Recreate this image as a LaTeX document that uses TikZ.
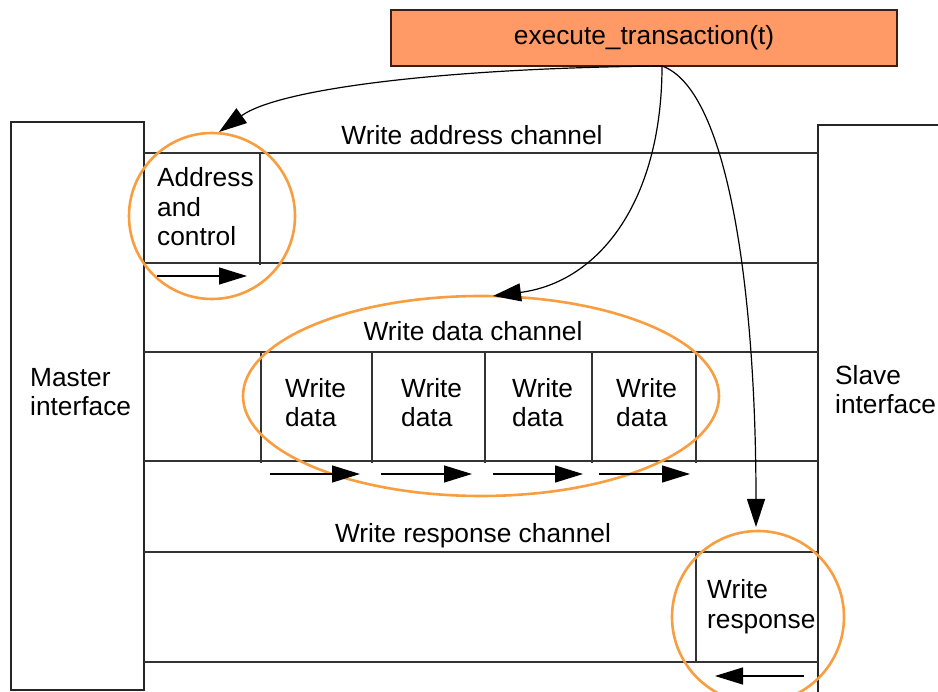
\documentclass[tikz,border=0pt]{standalone}
\usepackage{fontspec}
\setmainfont{Liberation Sans}
\usetikzlibrary{arrows.meta}
\definecolor{hilite}{RGB}{248,158,64}
\definecolor{callfill}{RGB}{255,153,102}
\definecolor{calledge}{RGB}{60,30,20}
\begin{document}
\begin{tikzpicture}[x=1pt,y=-1pt,
  lbl/.style={font=\fontsize{26.3}{29.5}\selectfont, inner sep=0pt, align=left, anchor=base west},
  ctr/.style={lbl, anchor=base},
  frame/.style={line width=1.4pt, draw=black!85},
  wire/.style={line width=1.4pt, draw=black!80},
  flow/.style={line width=1.3pt, -{Triangle[length=28pt,width=17pt]}},
  call/.style={line width=1.2pt, -{Triangle[length=28pt,width=18pt]}},
  ring/.style={draw=hilite, line width=2.6pt}]
\useasboundingbox (0,0) rectangle (938,692);
\clip (0,0) rectangle (938,692);

% interface blocks
\draw[frame] (11,690) -- (11,122) -- (144,122) -- (144,690) -- cycle;
\draw[frame] (940,125) -- (818,125) -- (818,700);

% write address channel
\draw[wire] (144,153) -- (818,153) (144,263) -- (818,263);
\draw[wire] (260,153) -- (260,265);

% write data channel
\draw[wire] (144,352) -- (818,352) (144,461) -- (818,461);
\foreach \x in {261,372,485,592,696} \draw[wire] (\x,352) -- (\x,463);

% write response channel
\draw[wire] (144,552) -- (818,552) (144,662) -- (818,662);
\draw[wire] (696,552) -- (696,662);

% highlighted groups
\draw[ring] (212,216) circle[radius=83];
\draw[ring] (481,396) ellipse[x radius=238, y radius=100];
\draw[ring] (758,617) circle[radius=86];

% labels (multi-line nodes are placed by the baseline of their last line)
\node[lbl] (master) at (30,416) {Master\\interface};
\node[lbl] (slave) at (835,414) {Slave\\interface};
\node[ctr] (wach) at (472,145) {Write address channel};
\node[ctr] (wdch) at (473,341) {Write data channel};
\node[ctr] (wrch) at (473,543) {Write response channel};
\node[lbl] (awcell) at (157,246) {Address\\and\\control};
\node[lbl] (wd1) at (285,427) {Write\\data};
\node[lbl] (wd2) at (401,427) {Write\\data};
\node[lbl] (wd3) at (512,427) {Write\\data};
\node[lbl] (wd4) at (616,427) {Write\\data};
\node[lbl] (bcell) at (707,628) {Write\\response};

% transfer direction arrows
\coordinate (aw0) at (157,276); \coordinate (aw1) at (247,276);
\draw[flow] (aw0) -- (aw1);
\foreach \s/\e [count=\i] in {270/360,381/472,493/583,599/690} {
  \coordinate (w\i a) at (\s,474); \coordinate (w\i b) at (\e,474);
  \draw[flow] (w\i a) -- (w\i b);
}
\coordinate (b0) at (804,676); \coordinate (b1) at (715,676);
\draw[flow] (b0) -- (b1);

% transaction call
\node[draw=calledge, fill=callfill, line width=1.3pt, minimum width=506pt,
      minimum height=56pt, inner sep=0pt, font=\fontsize{26.3}{29.5}\selectfont]
      (exec) at (644,38) {execute\_transaction(t)};
\coordinate (src) at (662,66);
\coordinate (tAW) at (219,132);
\coordinate (tW) at (493,296);
\coordinate (tB) at (756,527);
\draw[call] (src) .. controls (450,68) and (280,88) .. (tAW);
\draw[call] (src) .. controls (662,200) and (600,282) .. (tW);
\draw[call] (src) .. controls (730,90) and (756,300) .. (tB);
\end{tikzpicture}
\end{document}
